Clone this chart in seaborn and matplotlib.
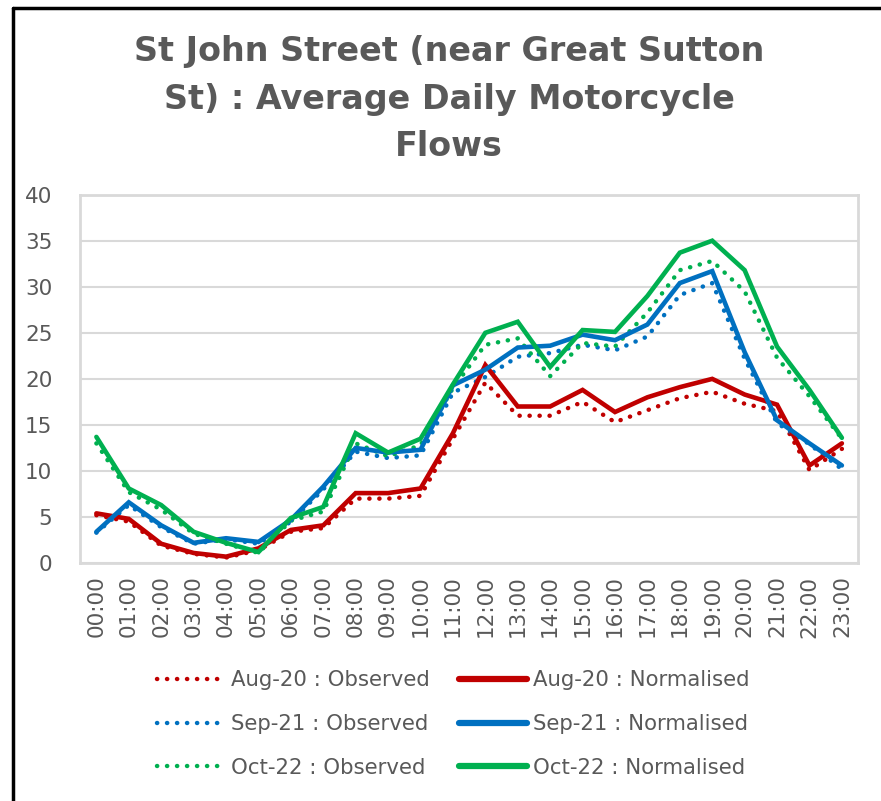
import matplotlib
matplotlib.use("Agg")
import matplotlib.pyplot as plt
import seaborn as sns
import pandas as pd
from matplotlib.lines import Line2D

hours = [f"{h:02d}:00" for h in range(24)]

aug20_observed = [5.2, 4.5, 1.9, 1.0, 0.6, 1.4, 3.4, 3.8, 7.0, 7.0, 7.3, 13.5,
                  19.6, 16.0, 16.0, 17.5, 15.3, 16.6, 17.9, 18.6, 17.3, 16.5, 10.1, 12.4]
aug20_normalised = [5.4, 4.8, 2.1, 1.1, 0.7, 1.6, 3.6, 4.1, 7.6, 7.6, 8.1, 14.1,
                    21.5, 17.0, 17.0, 18.8, 16.4, 18.0, 19.1, 20.0, 18.3, 17.2, 10.6, 13.0]
sep21_observed = [3.3, 6.3, 3.9, 2.1, 2.6, 2.1, 4.5, 8.0, 12.1, 11.4, 11.7, 18.5,
                  20.2, 22.4, 22.8, 23.7, 23.1, 24.6, 29.1, 30.4, 22.2, 15.2, 12.9, 10.2]
sep21_normalised = [3.4, 6.6, 4.1, 2.2, 2.7, 2.3, 4.7, 8.3, 12.5, 12.0, 12.3, 19.3,
                    21.0, 23.4, 23.6, 24.8, 24.2, 25.9, 30.4, 31.7, 22.9, 15.5, 13.0, 10.6]
oct22_observed = [13.0, 7.7, 5.8, 3.2, 2.1, 1.1, 4.6, 5.6, 13.0, 11.6, 12.8, 19.0,
                  23.7, 24.4, 20.3, 23.9, 23.5, 27.2, 31.8, 32.8, 29.5, 22.3, 18.1, 13.5]
oct22_normalised = [13.7, 8.1, 6.3, 3.4, 2.2, 1.2, 4.9, 6.1, 14.1, 12.0, 13.5, 19.4,
                    25.0, 26.2, 21.3, 25.3, 25.1, 29.0, 33.7, 35.0, 31.8, 23.5, 18.8, 13.6]

series = [
    ("Aug-20 : Observed", aug20_observed, "#C00000", "dotted"),
    ("Sep-21 : Observed", sep21_observed, "#0070C0", "dotted"),
    ("Oct-22 : Observed", oct22_observed, "#00B050", "dotted"),
    ("Aug-20 : Normalised", aug20_normalised, "#C00000", "solid"),
    ("Sep-21 : Normalised", sep21_normalised, "#0070C0", "solid"),
    ("Oct-22 : Normalised", oct22_normalised, "#00B050", "solid"),
]

sns.set_style("white")
plt.rcParams["font.family"] = ["DejaVu Sans"]
text_grey = "#595959"
grid_grey = "#D9D9D9"

fig = plt.figure(figsize=(8.81, 8.01), dpi=100)
ax = fig.add_axes([0.091, 0.297, 0.883, 0.460])

dot_style = (0, (0.05, 2.2))
handles = []
for label, values, colour, kind in series:
    df = pd.DataFrame({"pos": range(len(hours)), "value": values})
    if kind == "dotted":
        sns.lineplot(data=df, x="pos", y="value", ax=ax, color=colour,
                     linewidth=3.2, linestyle=dot_style,
                     dash_capstyle="round", solid_capstyle="round")
        handles.append(Line2D([], [], color=colour, linewidth=3.2,
                              linestyle=dot_style, dash_capstyle="round", label=label))
    else:
        sns.lineplot(data=df, x="pos", y="value", ax=ax, color=colour,
                     linewidth=3.3, solid_joinstyle="miter")
        handles.append(Line2D([], [], color=colour, linewidth=4.5,
                              solid_capstyle="round", label=label))

ax.set_xlim(-0.5, len(hours) - 0.5)
ax.set_ylim(0, 40)
ax.set_yticks(range(0, 41, 5))
ax.set_xticks(range(len(hours)))
ax.set_xticklabels(hours, rotation=90)
ax.set_xlabel("")
ax.set_ylabel("")
ax.grid(axis="y", color=grid_grey, linewidth=1.5)
ax.set_axisbelow(True)
for s in ax.spines.values():
    s.set_color(grid_grey)
    s.set_linewidth(2)
ax.tick_params(axis="both", length=0, labelsize=15.5, colors=text_grey, pad=9)
ax.tick_params(axis="y", pad=20)

fig.suptitle("St John Street (near Great Sutton\nSt) : Average Daily Motorcycle\nFlows",
             x=0.51, y=0.956, fontsize=24, fontweight="bold", color=text_grey,
             linespacing=1.55, va="top")

leg = fig.legend(handles=handles, ncol=2, loc="center", bbox_to_anchor=(0.5145, 0.096),
                 frameon=False, fontsize=15.3, handlelength=3.2, handletextpad=0.3,
                 columnspacing=1.35, labelspacing=1.12, labelcolor=text_grey)

# outer frame of the chart area
fig.add_artist(Line2D([0.0148, 0.0148], [0.0, 0.99], transform=fig.transFigure,
                      color="black", linewidth=2.5))
fig.add_artist(Line2D([0.0148, 1.0], [0.99, 0.99], transform=fig.transFigure,
                      color="black", linewidth=2.5))

fig.savefig("out.png", dpi=100, facecolor="white")
